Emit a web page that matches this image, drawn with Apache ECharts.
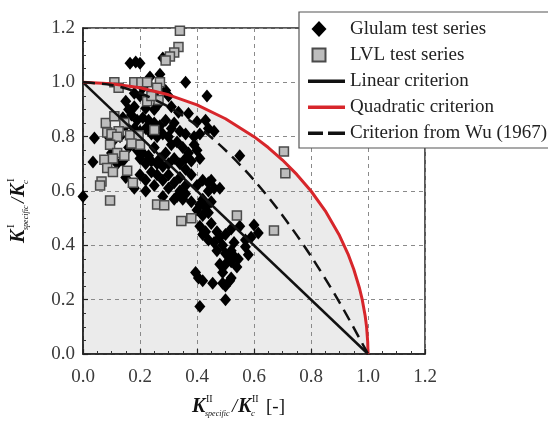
<!DOCTYPE html>
<html>
<head>
<meta charset="utf-8">
<script src="https://cdn.jsdelivr.net/npm/echarts@6/dist/echarts.min.js"></script>
<style>html,body{margin:0;padding:0;background:#fff;}#c{width:548px;height:421px;}</style>
</head>
<body>
<div id="c"></div>
<script>
// ---- data ----
var xTicks = [0.0, 0.2, 0.4, 0.6, 0.8, 1.0, 1.2];
var yTicks = [0.0, 0.2, 0.4, 0.6, 0.8, 1.0, 1.2];

var glulam = [
  [0.165,1.07],[0.185,1.075],[0.2,1.07],[0.28,1.09],[0.235,1.02],[0.27,1.03],[0.36,1.0],[0.225,1.0],
  [0.21,0.98],[0.18,0.96],[0.2,0.95],[0.23,0.94],[0.255,0.965],[0.29,0.97],[0.3,0.95],[0.435,0.95],
  [0.15,0.93],[0.18,0.91],[0.22,0.905],[0.25,0.9],[0.31,0.91],[0.335,0.89],[0.37,0.885],[0.16,0.9],[0.265,0.92],
  [0.14,0.87],[0.17,0.88],[0.19,0.86],[0.21,0.87],[0.23,0.86],[0.25,0.85],[0.27,0.84],[0.29,0.86],
  [0.31,0.83],[0.32,0.85],[0.34,0.82],[0.36,0.81],[0.4,0.855],[0.43,0.86],[0.44,0.83],[0.46,0.82],
  [0.18,0.83],[0.2,0.82],[0.22,0.83],[0.24,0.81],[0.26,0.8],[0.15,0.84],[0.13,0.8],[0.11,0.79],
  [0.09,0.8],[0.28,0.81],[0.3,0.8],[0.39,0.8],[0.41,0.81],
  [0.04,0.795],[0.035,0.707],[0.0,0.58],
  [0.1,0.74],[0.16,0.76],[0.19,0.75],[0.21,0.74],[0.23,0.73],[0.25,0.76],[0.27,0.72],[0.29,0.74],
  [0.31,0.77],[0.33,0.78],[0.35,0.76],[0.37,0.74],[0.39,0.77],[0.4,0.75],[0.41,0.72],[0.38,0.71],
  [0.36,0.72],[0.34,0.7],[0.32,0.72],[0.3,0.7],[0.28,0.69],[0.26,0.7],[0.24,0.71],[0.22,0.7],
  [0.2,0.72],[0.14,0.71],[0.12,0.7],[0.55,0.73],
  [0.2,0.66],[0.22,0.64],[0.24,0.67],[0.26,0.66],[0.28,0.64],[0.3,0.66],[0.32,0.63],[0.34,0.65],
  [0.36,0.68],[0.38,0.66],[0.4,0.62],[0.42,0.64],[0.44,0.63],[0.46,0.61],[0.44,0.6],[0.18,0.61],
  [0.22,0.6],[0.3,0.61],[0.34,0.6],[0.36,0.62],[0.48,0.61],[0.25,0.62],[0.15,0.65],[0.45,0.64],
  [0.28,0.58],[0.32,0.57],[0.35,0.57],[0.36,0.59],[0.38,0.56],[0.42,0.57],[0.43,0.54],[0.41,0.55],
  [0.44,0.52],[0.42,0.51],[0.45,0.56],[0.33,0.58],[0.4,0.53],
  [0.41,0.47],[0.43,0.45],[0.42,0.44],[0.45,0.48],[0.47,0.45],[0.48,0.43],[0.5,0.44],[0.52,0.46],
  [0.55,0.47],[0.57,0.42],[0.6,0.475],[0.615,0.445],[0.59,0.43],[0.46,0.41],[0.49,0.4],[0.53,0.41],[0.44,0.42],
  [0.47,0.38],[0.5,0.37],[0.52,0.38],[0.545,0.35],[0.57,0.395],[0.58,0.365],[0.48,0.33],[0.5,0.33],
  [0.52,0.34],[0.54,0.32],[0.49,0.3],[0.51,0.36],[0.53,0.36],
  [0.395,0.3],[0.405,0.28],[0.42,0.27],[0.455,0.26],[0.49,0.26],[0.5,0.25],[0.515,0.27],[0.52,0.28],
  [0.5,0.2],[0.41,0.175]
];

var lvl = [
  [0.34,1.19],[0.335,1.13],[0.32,1.11],[0.305,1.095],[0.29,1.08],
  [0.11,1.0],[0.125,0.98],[0.18,1.0],[0.205,1.0],[0.225,1.0],[0.27,1.0],[0.26,0.98],
  [0.225,0.93],[0.265,0.935],[0.24,0.95],
  [0.08,0.85],[0.11,0.875],[0.145,0.85],[0.125,0.82],[0.085,0.815],[0.165,0.805],[0.195,0.805],
  [0.25,0.825],[0.1,0.81],[0.12,0.8],
  [0.2,0.77],[0.17,0.775],[0.095,0.77],[0.12,0.74],[0.145,0.73],
  [0.075,0.715],[0.105,0.72],[0.085,0.685],[0.105,0.67],[0.155,0.675],
  [0.065,0.635],[0.06,0.62],[0.175,0.63],
  [0.095,0.565],[0.26,0.55],[0.285,0.548],
  [0.345,0.49],[0.38,0.5],[0.54,0.51],[0.67,0.455],[0.705,0.745],[0.71,0.665]
];

var linearCrit = [[0,1],[1,0]];
var quadraticCrit = [
  [0,1],[0.1,0.995],[0.2,0.980],[0.3,0.954],[0.4,0.917],[0.5,0.866],[0.6,0.800],[0.65,0.760],
  [0.7,0.714],[0.75,0.661],[0.8,0.600],[0.85,0.527],[0.9,0.436],[0.93,0.368],[0.95,0.312],
  [0.97,0.243],[0.98,0.199],[0.99,0.141],[0.995,0.100],[0.999,0.045],[1.0,0]
];
var wuCrit = [
  [0,1],[0.1,0.99],[0.2,0.96],[0.3,0.91],[0.4,0.84],[0.5,0.75],[0.6,0.64],[0.7,0.51],
  [0.8,0.36],[0.9,0.19],[1.0,0]
];

var names = ['Glulam test series','LVL test series','Linear criterion','Quadratic criterion','Criterion from Wu (1967)'];

// ---- chart ----
var FONT = '"Liberation Serif", "DejaVu Serif", serif';
var chart = echarts.init(document.getElementById('c'), null, {renderer: 'canvas'});

function axisCommon() {
  return {
    type: 'value', min: 0, max: 1.2, interval: 0.2,
    axisLine: {show: true, onZero: false, lineStyle: {color: '#222', width: 1.5}},
    axisTick: {show: true, inside: true, length: 5, lineStyle: {color: '#222', width: 1.2}},
    minorTick: {show: true, splitNumber: 4, length: 3, lineStyle: {color: '#333', width: 1}},
    splitLine: {show: true, lineStyle: {color: '#8a8a8a', width: 1, type: [4, 4]}},
    axisLabel: {
      fontFamily: FONT, fontSize: 19, color: '#3a3a3a',
      formatter: function (v) { return v.toFixed(1); }
    }
  };
}
var xa = axisCommon(); xa.axisLabel.margin = 14;
var ya = axisCommon(); ya.axisLabel.margin = 8;

function sub(t, x, y, size, plain) {
  return {type: 'text', style: {text: t, x: x, y: y, font: (plain ? '' : 'italic ') + size + 'px ' + FONT, fill: '#111', verticalAlign: 'middle', align: 'left'}};
}
function bigK(x) {
  return {type: 'text', style: {text: 'K', x: x, y: 0, font: 'italic bold 20px ' + FONT, fill: '#111', verticalAlign: 'middle', align: 'left'}};
}

// legend icons (bounding box padded to 37x17 with moveTo points)
var BOX = 'path://M0,0 M37,17 ';
var iconDiamond = BOX + 'M11,0.5 L18.5,8.5 L11,16.5 L3.5,8.5 Z';
var iconSquare = BOX + 'M4.5,2 L17.5,2 L17.5,15 L4.5,15 Z';
var iconLine = BOX + 'M0,7 L37,7 L37,10.5 L0,10.5 Z';
var iconDash = BOX + 'M0,7 L15,7 L15,10.5 L0,10.5 Z M20,7 L37,7 L37,10.5 L20,10.5 Z';

var option = {
  animation: false,
  backgroundColor: '#fff',
  grid: {left: 83, right: 123, top: 28, bottom: 67, show: true, borderColor: '#222', borderWidth: 1.5, backgroundColor: 'transparent'},
  xAxis: xa,
  yAxis: ya,
  legend: {
    orient: 'vertical', left: 299, top: 12,
    padding: [7, 4, 5, 8],
    itemGap: 6, itemWidth: 37, itemHeight: 17,
    backgroundColor: '#fff', borderColor: '#555', borderWidth: 1.2,
    textStyle: {fontFamily: FONT, fontSize: 19, color: '#222', lineHeight: 20},
    data: [
      {name: names[0], icon: iconDiamond},
      {name: names[1], icon: iconSquare},
      {name: names[2], icon: iconLine},
      {name: names[3], icon: iconLine},
      {name: names[4], icon: iconDash}
    ]
  },
  series: [
    {
      name: 'fill', type: 'line', data: quadraticCrit, z: -1, silent: true,
      symbol: 'none', lineStyle: {width: 0, opacity: 0},
      areaStyle: {color: '#ebebeb', opacity: 1}
    },
    {
      name: names[0], type: 'scatter', data: glulam, z: 2,
      symbol: 'diamond', symbolSize: [11, 13],
      itemStyle: {color: '#000', opacity: 1}
    },
    {
      name: names[1], type: 'scatter', data: lvl, z: 2,
      symbol: 'rect', symbolSize: 9,
      itemStyle: {color: '#bdbdbd', borderColor: '#4a4a4a', borderWidth: 1.5, opacity: 1}
    },
    {
      name: names[2], type: 'line', data: linearCrit, z: 3,
      symbol: 'none', itemStyle: {color: '#111'}, lineStyle: {color: '#111', width: 2.5}
    },
    {
      name: names[3], type: 'line', data: quadraticCrit, z: 3,
      symbol: 'none', itemStyle: {color: '#d7262b'}, lineStyle: {color: '#d7262b', width: 3}
    },
    {
      name: names[4], type: 'line', data: wuCrit, z: 3, smooth: 0.3,
      symbol: 'none', itemStyle: {color: '#111'}, lineStyle: {color: '#111', width: 2.5, type: [12, 7]}
    }
  ],
  graphic: [
    {
      type: 'group', x: 192, y: 407,
      children: [
        bigK(0),
        sub('II', 14, -8, 10, true),
        sub('specific', 13, 7, 8),
        {type: 'text', style: {text: '/', x: 40, y: 0, font: 'italic 19px ' + FONT, fill: '#111', verticalAlign: 'middle'}},
        bigK(46),
        sub('c', 59, 7, 9),
        sub('II', 60, -8, 10, true),
        {type: 'text', style: {text: '[-]', x: 74, y: 0, font: '19px ' + FONT, fill: '#111', verticalAlign: 'middle'}}
      ]
    },
    {
      type: 'group', x: 19, y: 243, rotation: Math.PI / 2,
      children: [
        bigK(0),
        sub('I', 15, -8, 11, true),
        sub('specific', 13, 7, 8),
        {type: 'text', style: {text: '/', x: 40, y: 0, font: 'italic 19px ' + FONT, fill: '#111', verticalAlign: 'middle'}},
        bigK(46),
        sub('c', 59, 7, 9),
        sub('I', 61, -8, 11, true)
      ]
    }
  ]
};
chart.setOption(option);
</script>
</body>
</html>
